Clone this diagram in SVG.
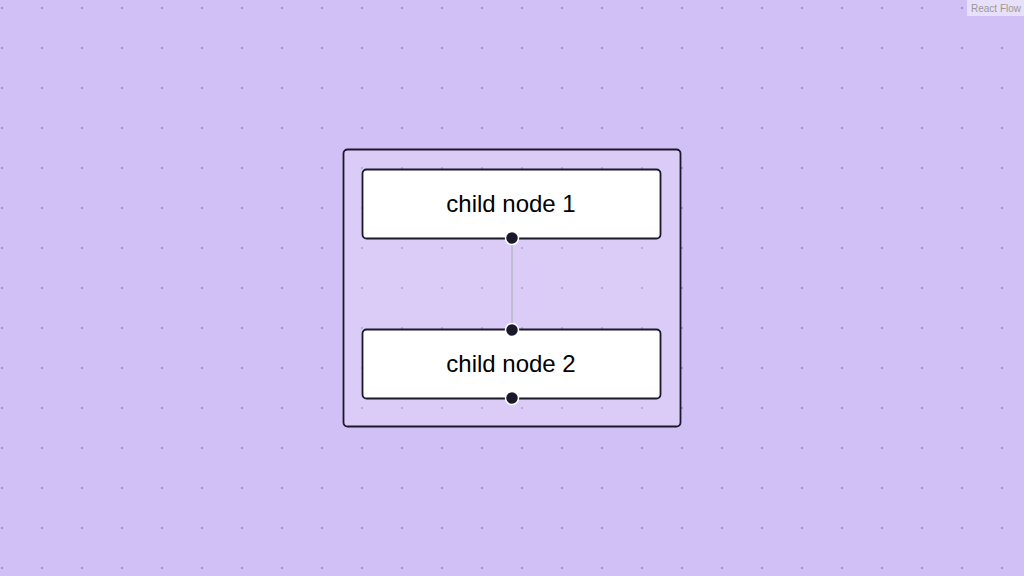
<svg xmlns="http://www.w3.org/2000/svg" width="1024" height="576" viewBox="0 0 1024 576">
<defs>
<pattern id="dots" x="0" y="0" width="40" height="40" patternUnits="userSpaceOnUse">
<circle cx="2" cy="8" r="0.9" fill="#8f7fb8"/>
</pattern>
</defs>
<style>
.node rect{fill:#ffffff;stroke:#1a192b;stroke-width:1.8}
.node text{font-family:"Liberation Sans",Arial,sans-serif;font-size:24px;fill:#000;text-anchor:middle}
.handle{fill:#1a192b;stroke:#ffffff;stroke-width:1.5}
.edge{stroke:#b1b1b7;stroke-width:1.2;fill:none}
</style>
<rect width="1024" height="576" fill="#d1c0f6"/>
<rect width="1024" height="576" fill="url(#dots)"/>
<g id="group">
<rect x="343.5" y="149.5" width="337" height="277" rx="4" fill="#ffffff" fill-opacity="0.2" stroke="#1a192b" stroke-width="1.8"/>
</g>
<g id="connectors">
<path class="edge" d="M512 238 L512 330"/>
</g>
<g id="node1" class="node">
<rect x="362.5" y="169.5" width="298" height="69" rx="4"/>
<text x="511" y="212">child node 1</text>
<circle class="handle" cx="512" cy="238" r="6.5"/>
</g>
<g id="node2" class="node">
<rect x="362.5" y="329.5" width="298" height="69" rx="4"/>
<text x="511" y="372">child node 2</text>
<circle class="handle" cx="512" cy="330" r="6.5"/>
<circle class="handle" cx="512" cy="398" r="6.5"/>
</g>
<g id="attribution">
<rect x="967" y="0" width="57" height="16" fill="#ffffff" fill-opacity="0.5"/>
<text x="996" y="11.5" font-family="'Liberation Sans',Arial,sans-serif" font-size="10" fill="#999999" text-anchor="middle">React Flow</text>
</g>
</svg>
